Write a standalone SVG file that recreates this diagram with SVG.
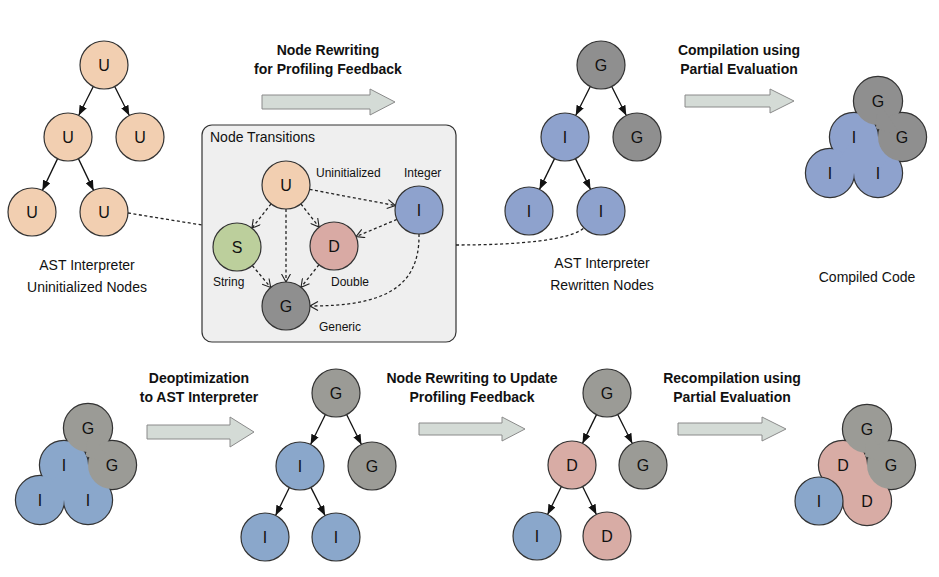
<svg xmlns="http://www.w3.org/2000/svg" width="939" height="577" viewBox="0 0 939 577">
<defs>
<marker id="ah" viewBox="0 0 10 8" refX="10" refY="4" markerWidth="10" markerHeight="8" markerUnits="userSpaceOnUse" orient="auto">
<path d="M0,0 L10,4 L0,8 z" fill="#111"/>
</marker>
<marker id="va" viewBox="0 0 9 10" refX="8.5" refY="5" markerWidth="9" markerHeight="10" markerUnits="userSpaceOnUse" orient="auto">
<path d="M0.5,0.5 L8.5,5 L0.5,9.5" fill="none" stroke="#222" stroke-width="1.1"/>
</marker>
</defs>
<style>
text{font-family:"Liberation Sans",Arial,sans-serif;fill:#111}
.t{font-size:14px;text-anchor:middle}
.b{font-size:14px;font-weight:bold;text-anchor:middle}
.s{font-size:12px}
.l{font-size:16px;text-anchor:middle;dominant-baseline:central}
circle{stroke:#333;stroke-width:1.2}
.u{fill:#f2cfb1}.i{fill:#8ea2cd}.g{fill:#8f8f8f}.sg{fill:#bccf9c}.d{fill:#d9aaa4}
.i2{fill:#8aa7cb}.g2{fill:#9b9b96}.d2{fill:#d8aca5}
.ns{stroke:none}
.ol{stroke-width:2.4}
.edge{stroke:#111;stroke-width:1.3;fill:none;marker-end:url(#ah)}
.dt{stroke:#222;stroke-width:1.3;fill:none;stroke-dasharray:3 2.5}
.dta{stroke:#222;stroke-width:1.3;fill:none;stroke-dasharray:3 2.5;marker-end:url(#va)}
.blk{fill:#d4dbd6;stroke:#8a8a8a;stroke-width:1}
</style>
<rect width="939" height="577" fill="#fff"/>

<!-- block arrows and titles -->
<g id="step-rewrite">
<path class="blk" d="M262,95 H370 V89 L395,102 L370,115 V109 H262 Z"/>
<text class="b" x="328" y="55">Node Rewriting</text>
<text class="b" x="328" y="74">for Profiling Feedback</text>
</g>
<g id="step-compile">
<path class="blk" d="M685,95 H770 V89 L794,101 L770,113 V107 H685 Z"/>
<text class="b" x="739" y="55">Compilation using</text>
<text class="b" x="739" y="74">Partial Evaluation</text>
</g>
<g id="step-deopt">
<path class="blk" d="M147,425 H230 V417 L254,432 L230,447 V439 H147 Z"/>
<text class="b" x="199" y="383">Deoptimization</text>
<text class="b" x="199" y="402">to AST Interpreter</text>
</g>
<g id="step-rewrite2">
<path class="blk" d="M419,423 H502 V417 L525,429 L502,441 V435 H419 Z"/>
<text class="b" x="472" y="383">Node Rewriting to Update</text>
<text class="b" x="472" y="402">Profiling Feedback</text>
</g>
<g id="step-recompile">
<path class="blk" d="M678,423 H762 V417 L786,429 L762,441 V435 H678 Z"/>
<text class="b" x="732" y="383">Recompilation using</text>
<text class="b" x="732" y="402">Partial Evaluation</text>
</g>

<!-- node transitions box -->
<g id="transitions-box">
<rect x="202" y="125" width="254" height="217" rx="10" fill="#efefef" stroke="#333" stroke-width="1.2"/>
<text class="s" style="font-size:14px" x="210" y="142">Node Transitions</text>
</g>

<!-- connectors -->
<g id="connectors">
<line class="edge" x1="93.3" y1="86.5" x2="78.7" y2="115.5"/>
<line class="edge" x1="114.7" y1="86.5" x2="129.3" y2="115.5"/>
<line class="edge" x1="57.6" y1="158.6" x2="42.4" y2="190.4"/>
<line class="edge" x1="78.4" y1="158.6" x2="93.6" y2="190.4"/>

<line class="edge" x1="590.3" y1="86.5" x2="575.7" y2="115.5"/>
<line class="edge" x1="611.7" y1="86.5" x2="626.3" y2="115.5"/>
<line class="edge" x1="554.5" y1="158.6" x2="539.5" y2="189.4"/>
<line class="edge" x1="575.5" y1="158.6" x2="590.5" y2="189.4"/>

<line class="edge" x1="325.4" y1="414.5" x2="310.6" y2="444.5"/>
<line class="edge" x1="346.6" y1="414.5" x2="361.4" y2="444.5"/>
<line class="edge" x1="289.4" y1="487.5" x2="275.6" y2="515.5"/>
<line class="edge" x1="310.9" y1="487.4" x2="325.1" y2="515.6"/>

<line class="edge" x1="596.5" y1="414.6" x2="582.5" y2="443.4"/>
<line class="edge" x1="617.7" y1="414.5" x2="632.3" y2="443.5"/>
<line class="edge" x1="561.4" y1="486.5" x2="547.6" y2="514.5"/>
<line class="edge" x1="582.6" y1="486.5" x2="596.4" y2="514.5"/>

<line class="dt" x1="128" y1="213" x2="202" y2="225"/>
<path class="dt" d="M456,245 C520,245 570,240 584,228"/>

<line class="dta" x1="271.1" y1="203.8" x2="251.9" y2="228.2"/>
<line class="dta" x1="300.9" y1="203.9" x2="319.1" y2="227.1"/>
<line class="dta" x1="286" y1="209" x2="286" y2="282"/>
<line class="dta" x1="309.6" y1="189.4" x2="395.4" y2="205.6"/>
<line class="dta" x1="396.9" y1="219.4" x2="356.1" y2="236.6"/>
<line class="dta" x1="252.3" y1="265.5" x2="270.7" y2="287.5"/>
<line class="dta" x1="319" y1="264.7" x2="301" y2="287.3"/>
<path class="dta" d="M419,234 C420,290 380,306 310,306"/>
</g>

<!-- tree 1: uninitialized -->
<g id="t1-root"><circle class="u" cx="104" cy="65" r="24"/><text class="l" x="104" y="65">U</text></g>
<g id="t1-mid"><circle class="u" cx="68" cy="137" r="24"/><text class="l" x="68" y="137">U</text></g>
<g id="t1-right"><circle class="u" cx="140" cy="137" r="24"/><text class="l" x="140" y="137">U</text></g>
<g id="t1-bl"><circle class="u" cx="32" cy="212" r="24"/><text class="l" x="32" y="212">U</text></g>
<g id="t1-br"><circle class="u" cx="104" cy="212" r="24"/><text class="l" x="104" y="212">U</text></g>
<g id="t1-label">
<text class="t" x="87" y="270">AST Interpreter</text>
<text class="t" x="87" y="292">Uninitialized Nodes</text>
</g>

<!-- transitions nodes -->
<g id="nt-u"><circle class="u" cx="286" cy="185" r="24"/><text class="l" x="286" y="185">U</text><text class="s" x="316" y="177">Uninitialized</text></g>
<g id="nt-s"><circle class="sg" cx="237" cy="247" r="24"/><text class="l" x="237" y="247">S</text><text class="s" x="213" y="286">String</text></g>
<g id="nt-d"><circle class="d" cx="334" cy="246" r="24"/><text class="l" x="334" y="246">D</text><text class="s" x="331" y="286">Double</text></g>
<g id="nt-i"><circle class="i" cx="419" cy="210" r="24"/><text class="l" x="419" y="210">I</text><text class="s" x="404" y="177">Integer</text></g>
<g id="nt-g"><circle class="g" cx="286" cy="306" r="24"/><text class="l" x="286" y="306">G</text><text class="s" x="319" y="331">Generic</text></g>

<!-- tree 2: rewritten -->
<g id="t2-root"><circle class="g" cx="601" cy="65" r="24"/><text class="l" x="601" y="65">G</text></g>
<g id="t2-mid"><circle class="i" cx="565" cy="137" r="24"/><text class="l" x="565" y="137">I</text></g>
<g id="t2-right"><circle class="g" cx="637" cy="137" r="24"/><text class="l" x="637" y="137">G</text></g>
<g id="t2-bl"><circle class="i" cx="529" cy="211" r="24"/><text class="l" x="529" y="211">I</text></g>
<g id="t2-br"><circle class="i" cx="601" cy="211" r="24"/><text class="l" x="601" y="211">I</text></g>
<g id="t2-label">
<text class="t" x="602" y="268">AST Interpreter</text>
<text class="t" x="602" y="290">Rewritten Nodes</text>
</g>

<!-- compiled cluster -->
<g id="compiled">
<circle class="i ol" cx="854" cy="137" r="24"/>
<circle class="i ol" cx="830" cy="173" r="24"/>
<circle class="i ol" cx="878" cy="173" r="24"/>
<circle class="g ol" cx="878" cy="101" r="24"/>
<circle class="g ol" cx="902" cy="137" r="24"/>
<circle class="i ns" cx="854" cy="137" r="24"/>
<circle class="i ns" cx="830" cy="173" r="24"/>
<circle class="i ns" cx="878" cy="173" r="24"/>
<polygon class="i" points="854,137 830,173 878,173 902,137"/>
<circle class="g ns" cx="878" cy="101" r="24"/>
<circle class="g ns" cx="902" cy="137" r="24"/>
<polygon class="g" points="878,101 902,137 876,128"/>
<text class="l" x="878" y="101">G</text>
<text class="l" x="902" y="137">G</text>
<text class="l" x="854" y="137">I</text>
<text class="l" x="830" y="173">I</text>
<text class="l" x="878" y="173">I</text>
<text class="t" x="867" y="282">Compiled Code</text>
</g>

<!-- deopt cluster -->
<g id="deopt-cluster">
<circle class="i2 ol" cx="64" cy="465" r="24"/>
<circle class="i2 ol" cx="40" cy="500" r="24"/>
<circle class="i2 ol" cx="88" cy="500" r="24"/>
<circle class="g2 ol" cx="88" cy="428" r="24"/>
<circle class="g2 ol" cx="112" cy="465" r="24"/>
<circle class="i2 ns" cx="64" cy="465" r="24"/>
<circle class="i2 ns" cx="40" cy="500" r="24"/>
<circle class="i2 ns" cx="88" cy="500" r="24"/>
<polygon class="i2" points="64,465 40,500 88,500 112,465"/>
<circle class="g2 ns" cx="88" cy="428" r="24"/>
<circle class="g2 ns" cx="112" cy="465" r="24"/>
<polygon class="g2" points="88,428 112,465 86,456"/>
<text class="l" x="88" y="428">G</text>
<text class="l" x="112" y="465">G</text>
<text class="l" x="64" y="465">I</text>
<text class="l" x="40" y="500">I</text>
<text class="l" x="88" y="500">I</text>
</g>

<!-- tree 3 -->
<g id="t3-root"><circle class="g2" cx="336" cy="393" r="24"/><text class="l" x="336" y="393">G</text></g>
<g id="t3-mid"><circle class="i2" cx="300" cy="466" r="24"/><text class="l" x="300" y="466">I</text></g>
<g id="t3-right"><circle class="g2" cx="372" cy="466" r="24"/><text class="l" x="372" y="466">G</text></g>
<g id="t3-bl"><circle class="i2" cx="265" cy="537" r="24"/><text class="l" x="265" y="537">I</text></g>
<g id="t3-br"><circle class="i2" cx="336" cy="537" r="24"/><text class="l" x="336" y="537">I</text></g>

<!-- tree 4 -->
<g id="t4-root"><circle class="g2" cx="607" cy="393" r="24"/><text class="l" x="607" y="393">G</text></g>
<g id="t4-mid"><circle class="d2" cx="572" cy="465" r="24"/><text class="l" x="572" y="465">D</text></g>
<g id="t4-right"><circle class="g2" cx="643" cy="465" r="24"/><text class="l" x="643" y="465">G</text></g>
<g id="t4-bl"><circle class="i2" cx="537" cy="536" r="24"/><text class="l" x="537" y="536">I</text></g>
<g id="t4-br"><circle class="d2" cx="607" cy="536" r="24"/><text class="l" x="607" y="536">D</text></g>

<!-- recompiled cluster -->
<g id="recompiled">
<circle class="d2 ol" cx="843" cy="465" r="24"/>
<circle class="d2 ol" cx="867" cy="501" r="24"/>
<circle class="g2 ol" cx="867" cy="429" r="24"/>
<circle class="g2 ol" cx="891" cy="465" r="24"/>
<circle class="d2 ns" cx="843" cy="465" r="24"/>
<circle class="d2 ns" cx="867" cy="501" r="24"/>
<polygon class="d2" points="843,465 830,501 867,501 891,465"/>
<circle class="g2 ns" cx="867" cy="429" r="24"/>
<circle class="g2 ns" cx="891" cy="465" r="24"/>
<polygon class="g2" points="867,429 891,465 865,456"/>
<circle class="i2" cx="819" cy="501" r="24"/>
<text class="l" x="867" y="429">G</text>
<text class="l" x="891" y="465">G</text>
<text class="l" x="843" y="465">D</text>
<text class="l" x="819" y="501">I</text>
<text class="l" x="867" y="501">D</text>
</g>
</svg>
